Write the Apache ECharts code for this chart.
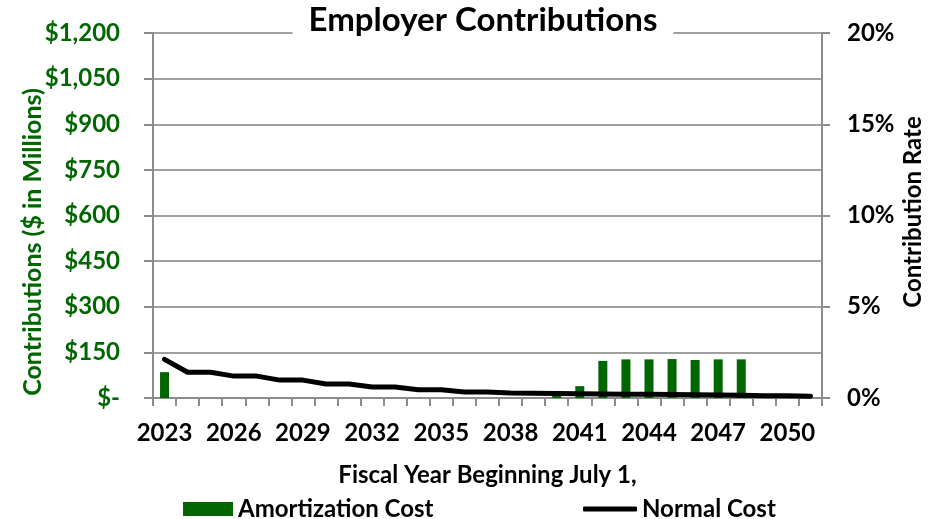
<!DOCTYPE html>
<html>
<head>
<meta charset="utf-8">
<script src="https://cdn.jsdelivr.net/npm/echarts@6/dist/echarts.min.js"></script>
<style>
  html, body { margin: 0; padding: 0; background: #fff; }
  #chart { width: 928px; height: 519px; }
</style>
</head>
<body>
<div id="chart"></div>
<script>
// Fiscal years (beginning July 1)
const years = ['2023','2024','2025','2026','2027','2028','2029','2030','2031','2032',
  '2033','2034','2035','2036','2037','2038','2039','2040','2041','2042',
  '2043','2044','2045','2046','2047','2048','2049','2050','2051'];

// Amortization cost, $ in millions
const amortizationCost = [85, 0, 0, 0, 0, 0, 0, 0, 0, 0,
  0, 0, 0, 0, 0, 0, 0, 8, 39, 122,
  127, 127, 128, 125, 127, 127, 0, 0, 0];

// Normal cost as a contribution rate, %
const normalCostRate = [2.12, 1.41, 1.41, 1.2, 1.2, 0.98, 0.98, 0.77, 0.77, 0.6,
  0.6, 0.45, 0.45, 0.33, 0.33, 0.27, 0.26, 0.24, 0.23, 0.22,
  0.21, 0.2, 0.19, 0.18, 0.17, 0.15, 0.13, 0.12, 0.1];

// Left axis ($) and right axis (%) tick settings
const dollarMax = 1200, dollarStep = 150;
const rateMax = 20, rateStep = 5;

const GREEN = '#006600';
const GRID_GRAY = '#a0a0a0';
const AXIS_GRAY = '#8c8c8c';
const FONT = 'Lato';

const chart = echarts.init(document.getElementById('chart'), null, { renderer: 'canvas' });

function dollarLabel(v) {
  if (v === 0) return '$-';
  return '$' + v.toLocaleString('en-US');
}

const boldText = (size, color) => ({ fontFamily: FONT, fontWeight: 'bold', fontSize: size, color: color });

chart.setOption({
  animation: false,
  backgroundColor: '#fff',
  textStyle: { fontFamily: FONT },
  title: {
    text: 'Employer Contributions',
    left: 467,
    top: 2,
    textAlign: 'center',
    backgroundColor: '#fff',
    padding: [2, 16, 2, 16],
    textStyle: boldText(33, '#000')
  },
  grid: { left: 153, right: 106, top: 33, bottom: 121, containLabel: false },
  legend: [
    {
      data: [{ name: 'Amortization Cost', icon: 'rect' }],
      left: 178, top: 492,
      itemWidth: 50, itemHeight: 14, itemGap: 5,
      textStyle: boldText(24, '#000')
    },
    {
      data: [{ name: 'Normal Cost', icon: 'roundRect' }],
      left: 578, top: 492,
      itemWidth: 54, itemHeight: 5,
      textStyle: boldText(24, '#000')
    }
  ],
  xAxis: {
    type: 'category',
    data: years,
    boundaryGap: true,
    name: 'Fiscal Year Beginning July 1,',
    nameLocation: 'middle',
    nameGap: 65,
    nameTextStyle: boldText(24, '#000'),
    axisLine: { lineStyle: { color: AXIS_GRAY, width: 2 } },
    axisTick: { show: true, interval: 0, length: 8, lineStyle: { color: AXIS_GRAY, width: 2 } },
    axisLabel: Object.assign({ interval: 2, margin: 23 }, boldText(24, '#000')),
    splitLine: { show: false }
  },
  yAxis: [
    {
      type: 'value',
      min: 0, max: dollarMax, interval: dollarStep,
      position: 'left',
      axisLine: { show: true, lineStyle: { color: AXIS_GRAY, width: 2 } },
      axisTick: { show: true, length: 9, lineStyle: { color: AXIS_GRAY, width: 2 } },
      axisLabel: Object.assign({ margin: 33, formatter: dollarLabel }, boldText(24, GREEN)),
      splitLine: { show: true, lineStyle: { color: GRID_GRAY, width: 2 } }
    },
    {
      type: 'value',
      min: 0, max: rateMax, interval: rateStep,
      position: 'right',
      axisLine: { show: true, lineStyle: { color: AXIS_GRAY, width: 2 } },
      axisTick: { show: true, length: 8, lineStyle: { color: AXIS_GRAY, width: 2 } },
      axisLabel: Object.assign({ margin: 25, formatter: '{value}%' }, boldText(24, '#000')),
      splitLine: { show: false }
    }
  ],
  graphic: [
    {
      type: 'text',
      x: 33, y: 242,
      rotation: Math.PI / 2,
      style: {
        text: 'Contributions ($ in Millions)',
        fill: GREEN,
        fontFamily: FONT,
        fontWeight: 'bold',
        fontSize: 25,
        textAlign: 'center',
        textVerticalAlign: 'middle'
      }
    },
    {
      type: 'text',
      x: 913, y: 212,
      rotation: Math.PI / 2,
      style: {
        text: 'Contribution Rate',
        fill: '#000',
        fontFamily: FONT,
        fontWeight: 'bold',
        fontSize: 24,
        textAlign: 'center',
        textVerticalAlign: 'middle'
      }
    }
  ],
  series: [
    {
      name: 'Amortization Cost',
      type: 'bar',
      yAxisIndex: 0,
      data: amortizationCost,
      barWidth: 9,
      itemStyle: { color: GREEN },
      z: 2
    },
    {
      name: 'Normal Cost',
      type: 'line',
      yAxisIndex: 1,
      data: normalCostRate,
      symbol: 'none',
      lineStyle: { color: '#000', width: 5, cap: 'round', join: 'round' },
      itemStyle: { color: '#000' },
      z: 3
    }
  ]
});
</script>
</body>
</html>
